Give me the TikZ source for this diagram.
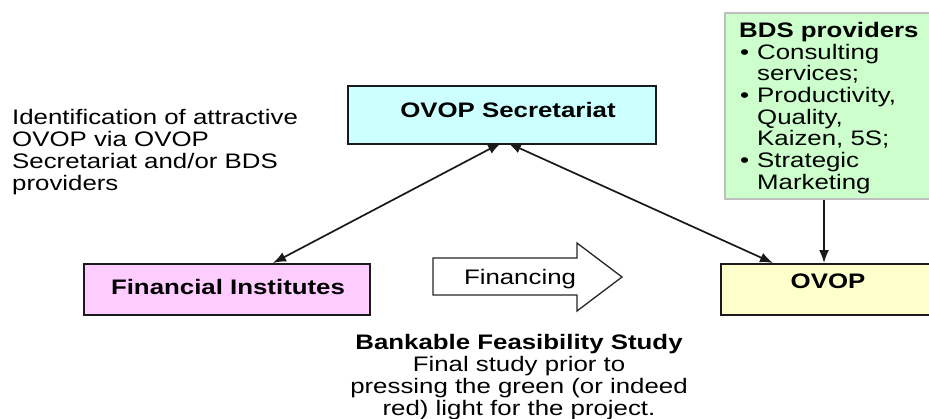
\documentclass[tikz,border=0pt]{standalone}
\usepackage{fontspec}
\setmainfont{Liberation Sans}[FakeStretch=1.23]
\usetikzlibrary{arrows.meta}

\definecolor{secfill}{HTML}{CCFFFF}
\definecolor{finfill}{HTML}{FFCCFF}
\definecolor{ovopfill}{HTML}{FFFFCC}
\definecolor{bdsfill}{HTML}{CCFFCC}
\definecolor{boxline}{HTML}{1A1A1A}

\tikzset{
  txt/.style={font=\fontsize{21}{21.7}\selectfont, inner sep=0pt},
  boxtxt/.style={txt, font=\fontsize{21}{21.7}\selectfont\bfseries},
  block/.style={draw=boxline, line width=1.6pt, inner sep=0pt},
  link/.style={line width=1.7pt, draw=black!90,
    -{Latex[length=13pt,width=10pt]}},
  twoway/.style={link, {Latex[length=13pt,width=10pt]}-{Latex[length=13pt,width=10pt]}},
}

\newcommand{\bpoint}{\makebox[18pt][l]{\hspace{1pt}\textbullet}}
\newcommand{\bindent}{\hspace*{18pt}}

\begin{document}
\begin{tikzpicture}[x=1pt,y=1pt]
  \useasboundingbox (0,0) rectangle (929,-418);
  \clip (0,0) rectangle (929,-418);
  \fill[white] (0,0) rectangle (929,-418);

  % boxes
  \node[block, fill=secfill, minimum width=308pt, minimum height=58pt,
        anchor=north west] (sec) at (347,-85) {};
  \node[boxtxt] at (508,-110) {OVOP Secretariat};

  \node[block, fill=finfill, minimum width=286pt, minimum height=51pt,
        anchor=north west] (fin) at (83,-263) {};
  \node[boxtxt] at (228,-287) {Financial Institutes};

  \node[block, fill=ovopfill, minimum width=230pt, minimum height=51pt,
        anchor=north west] (ovop) at (720,-263) {};
  \node[boxtxt] at (828,-281) {OVOP};

  \node[draw=black!25, line width=1.6pt, fill=bdsfill, inner sep=0pt,
        minimum width=230pt, minimum height=186pt,
        anchor=north west] (bds) at (724,-12) {};
  \node[txt, anchor=north west, align=left] (bdstext) at (739,-22)
    {\textbf{BDS providers}\\
     \bpoint Consulting\\
     \bindent services;\\
     \bpoint Productivity,\\
     \bindent Quality,\\
     \bindent Kaizen, 5S;\\
     \bpoint Strategic\\
     \bindent Marketing};

  % free text
  \node[txt, anchor=north west, align=left] (ident) at (12,-109.5)
    {Identification of attractive\\
     OVOP via OVOP\\
     Secretariat and/or BDS\\
     providers};

  \node[txt, anchor=north, align=center] (study) at (519,-334.5)
    {\textbf{Bankable Feasibility Study}\\
     Final study prior to\\
     pressing the green (or indeed\\
     red) light for the project.};

  % financing block arrow
  \draw[line width=1.3pt, draw=black!85, fill=white]
    (433,-258) -- (577,-258) -- (577,-243) -- (622,-277)
    -- (577,-311) -- (577,-295) -- (433,-295) -- cycle;
  \node[txt] (fintxt) at (520,-279) {Financing};

  % connectors
  \coordinate (secL) at (501,-143);
  \coordinate (secR) at (508,-143);
  \coordinate (finT) at (273,-263);
  \coordinate (ovopT) at (773,-263);
  \draw[twoway] (secL) -- (finT);
  \draw[twoway] (secR) -- (ovopT);
  \draw[link] (bds.south -| 824,0) -- (ovop.north -| 824,0);
\end{tikzpicture}
\end{document}
